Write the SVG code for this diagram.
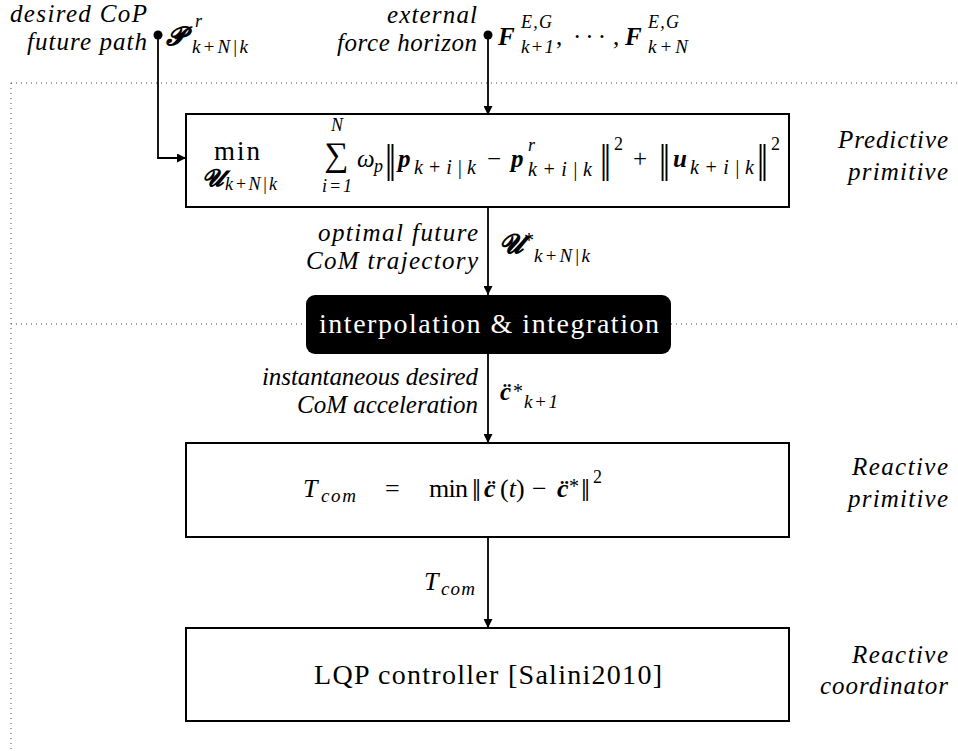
<svg xmlns="http://www.w3.org/2000/svg" width="958" height="751" viewBox="0 0 958 751" font-family="'Liberation Serif', serif">
<defs>
<style>
text{font-family:"Liberation Serif",serif;fill:#000}
.i{font-style:italic}
.bi{font-style:italic;font-weight:bold}
.lbl{font-style:italic;font-size:25px}
.box{fill:#fff;stroke:#000;stroke-width:2}
.dot{fill:none;stroke:#444;stroke-width:1;stroke-dasharray:1 4}
.wire{fill:none;stroke:#000;stroke-width:1.8}
</style>
<marker id="ah" viewBox="0 0 10 10" refX="10" refY="5" markerWidth="9" markerHeight="9" markerUnits="userSpaceOnUse" orient="auto">
<path d="M0,0 L10,5 L0,10 z" fill="#000"/>
</marker>
</defs>
<rect width="958" height="751" fill="#fff"/>
<g id="separators">
<line class="dot" x1="11" y1="83" x2="958" y2="83"/>
<line class="dot" x1="11" y1="83" x2="11" y2="751"/>
<line class="dot" x1="11" y1="324" x2="958" y2="324"/>
</g>
<g id="connectors">
<circle cx="158" cy="35" r="4.5" fill="#000"/>
<circle cx="488" cy="35" r="4.5" fill="#000"/>
<path class="wire" d="M158,35 V158 H186" marker-end="url(#ah)"/>
<path class="wire" d="M488,35 V115" marker-end="url(#ah)"/>
<path class="wire" d="M488,207 V295" marker-end="url(#ah)"/>
<path class="wire" d="M488,354 V443" marker-end="url(#ah)"/>
<path class="wire" d="M488,537 V628" marker-end="url(#ah)"/>
</g>
<g id="inputs">
<text class="lbl" x="147" y="22" text-anchor="end" textLength="137" lengthAdjust="spacing">desired CoP</text>
<text class="lbl" x="147" y="50" text-anchor="end" textLength="120" lengthAdjust="spacing">future path</text>
<text class="bi" x="166" y="45" font-size="26">𝓟</text>
<text class="i" x="195" y="27" font-size="18">r</text>
<text class="i" x="192" y="53" font-size="19" textLength="56" lengthAdjust="spacing">k+N|k</text>
<text class="lbl" x="477" y="23" text-anchor="end" textLength="90" lengthAdjust="spacing">external</text>
<text class="lbl" x="477" y="51" text-anchor="end" textLength="140" lengthAdjust="spacing">force horizon</text>
<text class="bi" x="498" y="45" font-size="25">F</text>
<text class="i" x="521" y="28" font-size="18" textLength="31" lengthAdjust="spacing">E,G</text>
<text class="i" x="521" y="53" font-size="19" textLength="33" lengthAdjust="spacing">k+1</text>
<text x="556" y="45" font-size="25">,</text>
<text x="573" y="45" font-size="25" textLength="33" lengthAdjust="spacing">· · ·</text>
<text x="613" y="45" font-size="25">,</text>
<text class="bi" x="625" y="45" font-size="25">F</text>
<text class="i" x="648" y="28" font-size="18" textLength="31" lengthAdjust="spacing">E,G</text>
<text class="i" x="648" y="53" font-size="19" textLength="40" lengthAdjust="spacing">k+N</text>
</g>
<g id="predictive">
<rect class="box" x="186" y="114" width="603" height="93"/>
<text x="214" y="160" font-size="27" textLength="46" lengthAdjust="spacing">min</text>
<text class="bi" x="202" y="186" font-size="24">𝓤</text>
<text class="i" x="225" y="190" font-size="18" textLength="52" lengthAdjust="spacing">k+N|k</text>
<text x="336" y="166" font-size="34" text-anchor="middle">∑</text>
<text class="i" x="337" y="131" font-size="18" text-anchor="middle">N</text>
<text class="i" x="337" y="192" font-size="18" text-anchor="middle" textLength="30" lengthAdjust="spacing">i=1</text>
<text class="i" x="357" y="167" font-size="25">ω</text>
<text class="i" x="374" y="172" font-size="18">p</text>
<text x="385" y="181" font-size="52" textLength="11" lengthAdjust="spacingAndGlyphs">‖</text>
<text class="bi" x="398" y="167" font-size="25">p</text>
<text class="i" x="414" y="174" font-size="20" textLength="62" lengthAdjust="spacing">k+i|k</text>
<text x="487" y="167" font-size="25">−</text>
<text class="bi" x="511" y="167" font-size="25">p</text>
<text class="i" x="528" y="151" font-size="18">r</text>
<text class="i" x="528" y="176" font-size="20" textLength="64" lengthAdjust="spacing">k+i|k</text>
<text x="600" y="181" font-size="52" textLength="11" lengthAdjust="spacingAndGlyphs">‖</text>
<text x="614" y="150" font-size="18">2</text>
<text x="633" y="167" font-size="25">+</text>
<text x="659" y="181" font-size="52" textLength="11" lengthAdjust="spacingAndGlyphs">‖</text>
<text class="bi" x="673" y="167" font-size="25">u</text>
<text class="i" x="690" y="174" font-size="20" textLength="64" lengthAdjust="spacing">k+i|k</text>
<text x="757" y="181" font-size="52" textLength="11" lengthAdjust="spacingAndGlyphs">‖</text>
<text x="771" y="150" font-size="18">2</text>
<text class="lbl" x="948" y="148" text-anchor="end" textLength="110" lengthAdjust="spacing">Predictive</text>
<text class="lbl" x="948" y="180" text-anchor="end" textLength="100" lengthAdjust="spacing">primitive</text>
</g>
<g id="optimal-label">
<text class="lbl" x="478" y="241" text-anchor="end" textLength="160" lengthAdjust="spacing">optimal future</text>
<text class="lbl" x="478" y="269" text-anchor="end" textLength="172" lengthAdjust="spacing">CoM trajectory</text>
<text class="bi" x="499" y="253" font-size="27">𝓤</text>
<text x="524" y="247" font-size="20">*</text>
<text class="i" x="534" y="262" font-size="19" textLength="56" lengthAdjust="spacing">k+N|k</text>
</g>
<g id="interpolation">
<rect x="306" y="295" width="365" height="59" rx="9" fill="#000"/>
<text x="489" y="333" font-size="28" style="fill:#fff" text-anchor="middle" textLength="340" lengthAdjust="spacing">interpolation &amp; integration</text>
</g>
<g id="accel-label">
<text class="lbl" x="478" y="385" text-anchor="end" textLength="216" lengthAdjust="spacing">instantaneous desired</text>
<text class="lbl" x="478" y="413" text-anchor="end" textLength="181" lengthAdjust="spacing">CoM acceleration</text>
<text class="bi" x="500" y="400" font-size="25">c̈</text>
<text x="513" y="398" font-size="20">*</text>
<text class="i" x="524" y="408" font-size="19" textLength="34" lengthAdjust="spacing">k+1</text>
</g>
<g id="reactive">
<rect class="box" x="186" y="443" width="603" height="94"/>
<text class="i" x="303" y="497" font-size="26">T</text>
<text class="i" x="321" y="502" font-size="19" textLength="35" lengthAdjust="spacing">com</text>
<text x="385" y="497" font-size="26">=</text>
<text x="429" y="497" font-size="26" textLength="39" lengthAdjust="spacing">min</text>
<text x="472" y="501" font-size="32">‖</text>
<text class="bi" x="484" y="497" font-size="26">c̈</text>
<text x="500" y="497" font-size="26">(<tspan class="i">t</tspan>)</text>
<text x="532" y="497" font-size="26">−</text>
<text class="bi" x="557" y="497" font-size="26">c̈</text>
<text x="569" y="493" font-size="20">*</text>
<text x="581" y="501" font-size="32">‖</text>
<text x="593" y="483" font-size="18">2</text>
<text class="lbl" x="948" y="475" text-anchor="end" textLength="96" lengthAdjust="spacing">Reactive</text>
<text class="lbl" x="948" y="507" text-anchor="end" textLength="100" lengthAdjust="spacing">primitive</text>
</g>
<g id="tcom-label">
<text class="i" x="424" y="590" font-size="26">T</text>
<text class="i" x="441" y="595" font-size="19" textLength="34" lengthAdjust="spacing">com</text>
</g>
<g id="lqp">
<rect class="box" x="186" y="628" width="603" height="93"/>
<text x="488" y="684" font-size="28" text-anchor="middle" textLength="348" lengthAdjust="spacing">LQP controller [Salini2010]</text>
<text class="lbl" x="948" y="663" text-anchor="end" textLength="96" lengthAdjust="spacing">Reactive</text>
<text class="lbl" x="948" y="694" text-anchor="end" textLength="128" lengthAdjust="spacing">coordinator</text>
</g>
</svg>
